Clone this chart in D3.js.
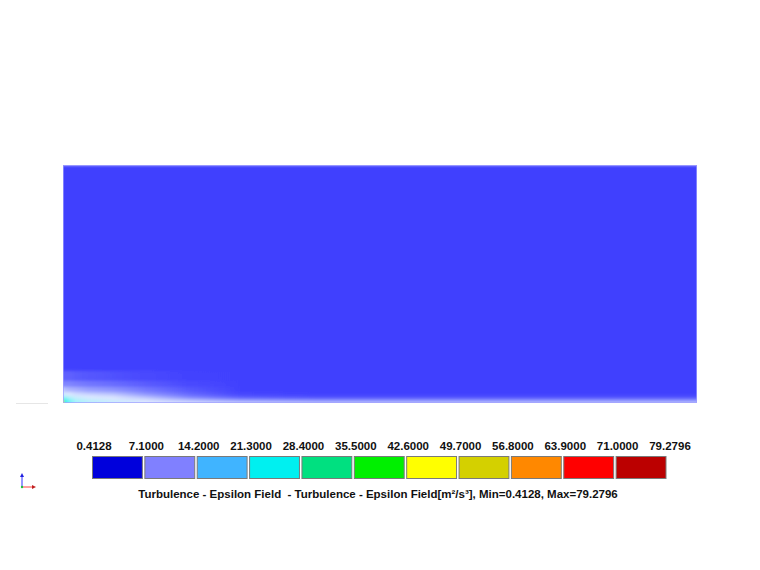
<!DOCTYPE html>
<html>
<head>
    <meta charset="utf-8" />
    <title>Turbulence - Epsilon Field</title>
    <script src="https://cdn.jsdelivr.net/npm/d3@7"></script>
    <style>
        html, body { margin: 0; padding: 0; background: #fff; }
        text { font-family: "Liberation Sans", Arial, sans-serif; font-weight: bold; }
    </style>
</head>
<body>
<script>
    // legend bands (Epsilon, m2/s3)
    var levelLabels = ['0.4128', '7.1000', '14.2000', '21.3000', '28.4000', '35.5000', '42.6000', '49.7000', '56.8000', '63.9000', '71.0000', '79.2796'];
    var bandColors = ['#0000dc', '#8080ff', '#40b4ff', '#00f0f0', '#00e080', '#00f000', '#ffff00', '#d4d000', '#ff8800', '#ff0000', '#bb0000'];

    // field samples: channel length 1000 units, height 375 units
    var domainX = [0, 1000];
    var domainY = [0, 375];
    var baseEps = 7;
    var xStops = [0, 4, 10, 20, 40, 80, 130, 200, 280, 400, 1000];
    var yStops = [0, 2, 4, 6, 9, 13, 18, 25, 35, 50];
    var epsRows = [
        [45, 26, 22, 19, 17, 15, 13.5, 12.5, 12, 11.5, 11.5],
        [40, 24, 21, 18, 16, 14.5, 13, 12, 11, 10.5, 10.5],
        [24, 22, 20, 17, 15, 13.5, 12.5, 11, 9.5, 9, 9],
        [21, 20, 18, 15.5, 14, 13, 12, 10, 8.5, 8, 8],
        [17, 16, 15, 14, 13, 12.5, 11, 9, 7.6, 7.3, 7.3],
        [14, 13.5, 13, 12.5, 12, 11.5, 10, 8.4, 7.2, 7, 7],
        [12, 11.5, 11.2, 11, 10.5, 10, 9, 7.8, 7, 7, 7],
        [9.5, 9.5, 9.5, 9.3, 9, 8.6, 8, 7.3, 7, 7, 7],
        [8.2, 8.2, 8.2, 8, 7.8, 7.6, 7.3, 7.05, 7, 7, 7]
    ];
    var titleText = 'Turbulence - Epsilon Field  - Turbulence - Epsilon Field[m\u00b2/s\u00b3], Min=0.4128, Max=79.2796';

    var width = 760, height = 570;
    var svg = d3.select('body').append('svg').attr('width', width).attr('height', height);

    var x = d3.scaleLinear().domain(domainX).range([63, 697]);
    var y = d3.scaleLinear().domain(domainY).range([403, 165]);

    // shaded field colour (smooth version of the banded map)
    var fieldColor = d3.scaleLinear()
        .domain([0, 7, 10, 13, 18, 25, 45, 79.2796])
        .range(['#4141fe', '#4141fe', '#8c92ff', '#dce6ff', '#a8f4fa', '#30f0f0', '#ffff00', '#ff8000'])
        .clamp(true);

    var fx0 = x(domainX[0]), fx1 = x(domainX[1]), fy0 = y(domainY[1]), fy1 = y(domainY[0]);

    var defs = svg.append('defs');
    defs.append('clipPath').attr('id', 'fieldClip').append('rect')
        .attr('x', fx0).attr('y', fy0).attr('width', fx1 - fx0).attr('height', fy1 - fy0);
    var blur = defs.append('filter').attr('id', 'smooth')
        .attr('filterUnits', 'userSpaceOnUse')
        .attr('x', fx0).attr('y', fy0).attr('width', fx1 - fx0).attr('height', fy1 - fy0);
    blur.append('feGaussianBlur').attr('stdDeviation', '0.6 1.8').attr('edgeMode', 'duplicate');

    // one horizontal gradient per row of samples
    defs.selectAll('linearGradient').data(epsRows).enter().append('linearGradient')
        .attr('id', function(d, j) { return 'row' + j; })
        .attr('gradientUnits', 'userSpaceOnUse')
        .attr('x1', fx0).attr('x2', fx1)
        .attr('y1', 0).attr('y2', 0)
        .selectAll('stop').data(function(row) { return row; }).enter().append('stop')
        .attr('offset', function(v, i) { return (xStops[i] - domainX[0]) / (domainX[1] - domainX[0]); })
        .attr('stop-color', function(v) { return fieldColor(v); });

    var gField = svg.append('g').attr('clip-path', 'url(#fieldClip)');
    var gSmooth = gField.append('g').attr('filter', 'url(#smooth)');
    gSmooth.append('rect')
        .attr('x', fx0).attr('y', fy0).attr('width', fx1 - fx0).attr('height', fy1 - fy0)
        .attr('fill', fieldColor(baseEps));
    // rows painted top-down, each one 1px taller so no seams show
    var rowIdx = d3.range(epsRows.length).reverse();
    gSmooth.selectAll('rect.row').data(rowIdx).enter().append('rect')
        .attr('class', 'row')
        .attr('shape-rendering', 'crispEdges')
        .attr('x', fx0)
        .attr('width', fx1 - fx0)
        .attr('y', function(j) { return y(yStops[j + 1]); })
        .attr('height', function(j) { return y(yStops[j]) - y(yStops[j + 1]) + 1; })
        .attr('fill', function(j) { return 'url(#row' + j + ')'; });

    // light outline of the domain
    svg.append('rect')
        .attr('x', fx0 + 0.5).attr('y', fy0 + 0.5)
        .attr('width', fx1 - fx0 - 1).attr('height', fy1 - fy0 - 1)
        .attr('fill', 'none').attr('stroke', '#9c9cff').attr('stroke-width', 1).attr('opacity', 0.7);

    // faint line left of the domain
    svg.append('line').attr('x1', 16).attr('x2', 48).attr('y1', 403.5).attr('y2', 403.5)
        .attr('stroke', '#e6e6e6').attr('stroke-width', 1);

    // legend
    var lx = d3.scaleLinear().domain([0, bandColors.length]).range([92, 668]);
    var gLegend = svg.append('g');
    gLegend.selectAll('rect').data(bandColors).enter().append('rect')
        .attr('x', function(d, i) { return lx(i) + 0.5; })
        .attr('y', 456.5)
        .attr('width', function(d, i) { return lx(i + 1) - lx(i) - 2.5; })
        .attr('height', 22)
        .attr('fill', function(d) { return d; })
        .attr('stroke', '#7a7a7a').attr('stroke-width', 1);

    gLegend.selectAll('text').data(levelLabels).enter().append('text')
        .attr('x', function(d, i) { return lx(i) + 2; })
        .attr('y', 450)
        .attr('text-anchor', 'middle')
        .attr('font-size', 11.5)
        .attr('fill', '#111')
        .text(function(d) { return d; });

    svg.append('text')
        .attr('x', 378).attr('y', 498)
        .attr('text-anchor', 'middle')
        .attr('font-size', 11.5)
        .attr('fill', '#111')
        .style('white-space', 'pre')
        .text(titleText);

    // axis triad
    var tri = svg.append('g').attr('transform', 'translate(22,487)');
    tri.append('line').attr('x1', 0).attr('y1', 0).attr('x2', 0).attr('y2', -11)
        .attr('stroke', '#3030ff').attr('stroke-width', 1);
    tri.append('path').attr('d', 'M-2,-10 L0,-14 L2,-10 Z').attr('fill', '#2020e0');
    tri.append('line').attr('x1', 0).attr('y1', 0).attr('x2', 11).attr('y2', 0)
        .attr('stroke', '#ff4040').attr('stroke-width', 1);
    tri.append('path').attr('d', 'M10,-2 L14,0 L10,2 Z').attr('fill', '#c02020');
    tri.append('circle').attr('r', 1.2).attr('fill', '#20c040');
</script>
</body>
</html>
